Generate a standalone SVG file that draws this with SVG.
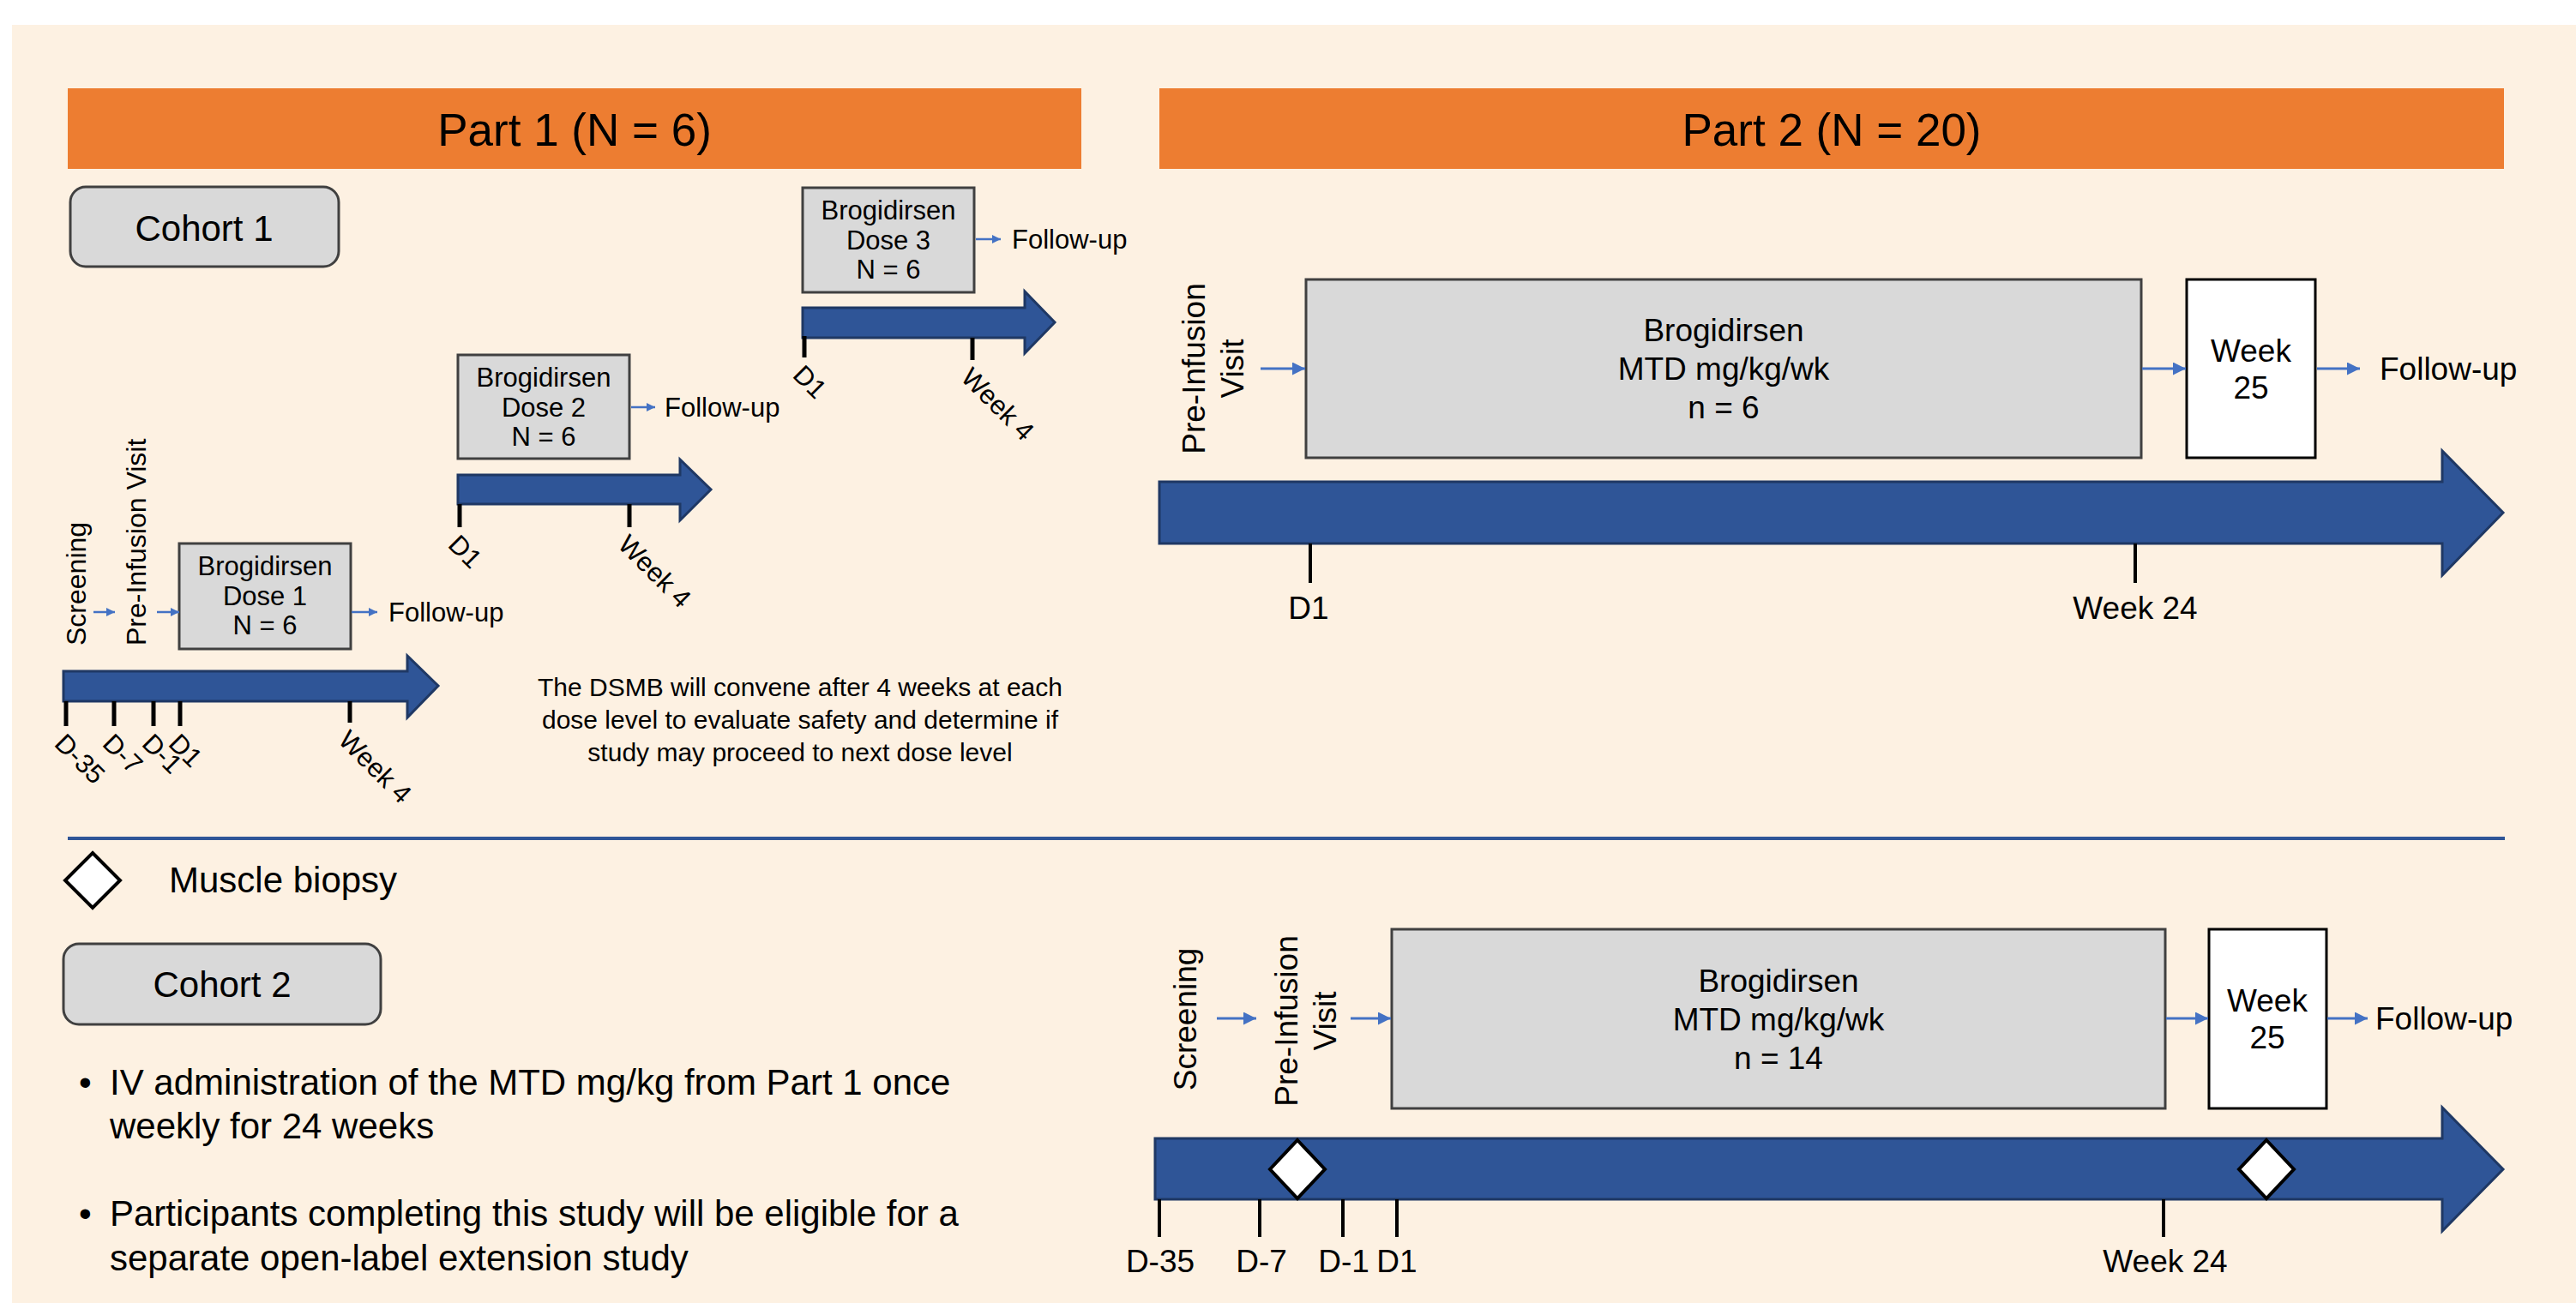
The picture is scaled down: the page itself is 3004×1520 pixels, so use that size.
<svg xmlns="http://www.w3.org/2000/svg" width="3004" height="1520" viewBox="0 0 3004 1520">
<defs>
<style>
text{font-family:"Liberation Sans",Arial,sans-serif;fill:#000}
.hdr{fill:#ED7D31}
.h{font-size:53px;text-anchor:middle}
.cb{fill:#D9D9D9;stroke:#404040;stroke-width:3}
.box{fill:#D9D9D9;stroke:#404040;stroke-width:3}
.wbox{fill:#FFFFFF;stroke:#000;stroke-width:3}
.tl{fill:#2F5597;stroke:#1F3864;stroke-width:3}
.tk{stroke:#000;stroke-width:5}
.tk2{stroke:#000;stroke-width:4}
.s31{font-size:31px}
.s32{font-size:32px}
.s30{font-size:30px}
.s37{font-size:37px}
.s42{font-size:42px}
.m{text-anchor:middle}
.c1{stroke:#4472C4;stroke-width:2.5;fill:none;marker-end:url(#ah)}
.c2{stroke:#4472C4;stroke-width:3;fill:none;marker-end:url(#ah2)}
.dm{fill:#fff;stroke:#000;stroke-width:4}
</style>
<marker id="ah" viewBox="0 0 10 10" refX="10" refY="5" markerWidth="10" markerHeight="10" markerUnits="userSpaceOnUse" orient="auto"><path d="M0,0L10,5L0,10z" fill="#4472C4"/></marker>
<marker id="ah2" viewBox="0 0 10 10" refX="10" refY="5" markerWidth="16" markerHeight="15" markerUnits="userSpaceOnUse" orient="auto"><path d="M0,0L10,5L0,10z" fill="#4472C4"/></marker>
</defs>
<rect x="0" y="0" width="3004" height="1520" fill="#FFFFFF"/>
<rect x="14" y="29" width="2990" height="1491" fill="#FDF1E2"/>

<g id="part1-header"><rect class="hdr" x="79" y="103" width="1182" height="94"/><text class="h" x="670" y="170">Part 1 (N = 6)</text></g>
<g id="part2-header"><rect class="hdr" x="1352" y="103" width="1568" height="94"/><text class="h" x="2136" y="170">Part 2 (N = 20)</text></g>

<g id="cohort1"><rect class="cb" x="82" y="218" width="313" height="93" rx="18"/><text class="s42 m" x="238" y="281">Cohort 1</text></g>

<g id="screening1"><text class="s32" transform="translate(100,753) rotate(-90)">Screening</text></g>
<g id="preinfusion1"><text class="s32" transform="translate(170,753) rotate(-90)">Pre-Infusion Visit</text></g>

<g id="dose1"><rect class="box" x="209" y="634" width="200" height="123"/><text class="s31 m" x="309" y="671">Brogidirsen</text><text class="s31 m" x="309" y="706">Dose 1</text><text class="s31 m" x="309" y="740">N = 6</text></g>
<g id="followup1"><text class="s31" x="453" y="725">Follow-up</text></g>

<g id="dose2"><rect class="box" x="534" y="414" width="200" height="121"/><text class="s31 m" x="634" y="451">Brogidirsen</text><text class="s31 m" x="634" y="486">Dose 2</text><text class="s31 m" x="634" y="520">N = 6</text></g>
<g id="followup2"><text class="s31" x="775" y="486">Follow-up</text></g>

<g id="dose3"><rect class="box" x="936" y="219" width="200" height="122"/><text class="s31 m" x="1036" y="256">Brogidirsen</text><text class="s31 m" x="1036" y="291">Dose 3</text><text class="s31 m" x="1036" y="325">N = 6</text></g>
<g id="followup3"><text class="s31" x="1180" y="290">Follow-up</text></g>

<g id="timeline1">
<polygon class="tl" points="74,783 475,783 475,765 511,800 475,837 475,818 74,818"/>
<line class="tk" x1="77" y1="818" x2="77" y2="847"/><line class="tk" x1="133" y1="818" x2="133" y2="847"/><line class="tk" x1="179" y1="818" x2="179" y2="847"/><line class="tk" x1="210" y1="818" x2="210" y2="847"/><line class="tk" x1="408" y1="818" x2="408" y2="843"/>
<text class="s31" transform="translate(62,869) rotate(45)">D-35</text>
<text class="s31" transform="translate(118,869) rotate(45)">D-7</text>
<text class="s31" transform="translate(164,869) rotate(45)">D-1</text>
<text class="s31" transform="translate(195,869) rotate(45)">D1</text>
<text class="s31" transform="translate(393,865) rotate(45)">Week 4</text>
</g>
<g id="timeline2">
<polygon class="tl" points="534,554 793,554 793,536 829,571 793,607 793,588 534,588"/>
<line class="tk" x1="536" y1="588" x2="536" y2="615"/><line class="tk" x1="734" y1="588" x2="734" y2="615"/>
<text class="s31" transform="translate(521,637) rotate(45)">D1</text>
<text class="s31" transform="translate(719,637) rotate(45)">Week 4</text>
</g>
<g id="timeline3">
<polygon class="tl" points="936,359 1195,359 1195,340 1230,376 1195,412 1195,394 936,394"/>
<line class="tk" x1="938" y1="392" x2="938" y2="417"/><line class="tk" x1="1134" y1="394" x2="1134" y2="420"/>
<text class="s31" transform="translate(923,439) rotate(45)">D1</text>
<text class="s31" transform="translate(1119,442) rotate(45)">Week 4</text>
</g>

<g id="dsmb-note"><text class="s30 m" x="933" y="812">The DSMB will convene after 4 weeks at each</text><text class="s30 m" x="933" y="850">dose level to evaluate safety and determine if</text><text class="s30 m" x="933" y="888">study may proceed to next dose level</text></g>

<g id="p2c1-preinfusion"><text class="s37 m" transform="translate(1405,430) rotate(-90)">Pre-Infusion</text><text class="s37 m" transform="translate(1450,430) rotate(-90)">Visit</text></g>
<g id="p2c1-treatment"><rect class="box" x="1523" y="326" width="974" height="208"/><text class="s37 m" x="2010" y="398">Brogidirsen</text><text class="s37 m" x="2010" y="443">MTD mg/kg/wk</text><text class="s37 m" x="2010" y="488">n = 6</text></g>
<g id="p2c1-week25"><rect class="wbox" x="2550" y="326" width="150" height="208"/><text class="s37 m" x="2625" y="422">Week</text><text class="s37 m" x="2625" y="465">25</text></g>
<g id="p2c1-followup"><text class="s37" x="2775" y="443">Follow-up</text></g>
<g id="timeline4">
<polygon class="tl" points="1352,562 2848,562 2848,526 2919,598 2848,671 2848,634 1352,634"/>
<line class="tk2" x1="1528" y1="634" x2="1528" y2="680"/><line class="tk2" x1="2490" y1="634" x2="2490" y2="680"/>
<text class="s37 m" x="1526" y="722">D1</text><text class="s37 m" x="2490" y="722">Week 24</text>
</g>

<line x1="79" y1="978" x2="2921" y2="978" stroke="#2F5597" stroke-width="4"/>

<g id="legend-biopsy"><polygon class="dm" points="108,995 140,1027 108,1059 76,1027"/><text class="s42" x="197" y="1041">Muscle biopsy</text></g>

<g id="cohort2"><rect class="cb" x="74" y="1101" width="370" height="94" rx="18"/><text class="s42 m" x="259" y="1163">Cohort 2</text></g>
<g id="cohort2-notes">
<text class="s42" x="92" y="1277">•</text><text class="s42" x="128" y="1277">IV administration of the MTD mg/kg from Part 1 once</text>
<text class="s42" x="128" y="1328">weekly for 24 weeks</text>
<text class="s42" x="92" y="1430">•</text><text class="s42" x="128" y="1430">Participants completing this study will be eligible for a</text>
<text class="s42" x="128" y="1482">separate open-label extension study</text>
</g>

<g id="p2c2-screening"><text class="s37 m" transform="translate(1395,1189) rotate(-90)">Screening</text></g>
<g id="p2c2-preinfusion"><text class="s37 m" transform="translate(1513,1191) rotate(-90)">Pre-Infusion</text><text class="s37 m" transform="translate(1558,1191) rotate(-90)">Visit</text></g>
<g id="p2c2-treatment"><rect class="box" x="1623" y="1084" width="902" height="209"/><text class="s37 m" x="2074" y="1157">Brogidirsen</text><text class="s37 m" x="2074" y="1202">MTD mg/kg/wk</text><text class="s37 m" x="2074" y="1247">n = 14</text></g>
<g id="p2c2-week25"><rect class="wbox" x="2576" y="1084" width="137" height="209"/><text class="s37 m" x="2644" y="1180">Week</text><text class="s37 m" x="2644" y="1223">25</text></g>
<g id="p2c2-followup"><text class="s37" x="2770" y="1201">Follow-up</text></g>
<g id="timeline5">
<polygon class="tl" points="1347,1328 2848,1328 2848,1292 2919,1364 2848,1436 2848,1399 1347,1399"/>
<line class="tk2" x1="1352" y1="1399" x2="1352" y2="1443"/><line class="tk2" x1="1469" y1="1399" x2="1469" y2="1443"/><line class="tk2" x1="1566" y1="1399" x2="1566" y2="1443"/><line class="tk2" x1="1629" y1="1399" x2="1629" y2="1443"/><line class="tk2" x1="2523" y1="1399" x2="2523" y2="1443"/>
<polygon class="dm" points="1513,1330 1545,1364 1513,1398 1481,1364"/>
<polygon class="dm" points="2643,1330 2675,1364 2643,1398 2611,1364"/>
<text class="s37 m" x="1353" y="1484">D-35</text><text class="s37 m" x="1471" y="1484">D-7</text><text class="s37 m" x="1567" y="1484">D-1</text><text class="s37 m" x="1629" y="1484">D1</text><text class="s37 m" x="2525" y="1484">Week 24</text>
</g>

<g id="connectors">
<line class="c1" x1="109" y1="714" x2="134" y2="714"/>
<line class="c1" x1="183" y1="714" x2="209" y2="714"/>
<line class="c1" x1="410" y1="714" x2="440" y2="714"/>
<line class="c1" x1="736" y1="475" x2="764" y2="475"/>
<line class="c1" x1="1138" y1="279" x2="1167" y2="279"/>
<line class="c2" x1="1470" y1="430" x2="1522" y2="430"/>
<line class="c2" x1="2498" y1="430" x2="2549" y2="430"/>
<line class="c2" x1="2702" y1="430" x2="2752" y2="430"/>
<line class="c2" x1="1419" y1="1188" x2="1465" y2="1188"/>
<line class="c2" x1="1575" y1="1188" x2="1622" y2="1188"/>
<line class="c2" x1="2526" y1="1188" x2="2575" y2="1188"/>
<line class="c2" x1="2714" y1="1188" x2="2761" y2="1188"/>
</g>
</svg>
